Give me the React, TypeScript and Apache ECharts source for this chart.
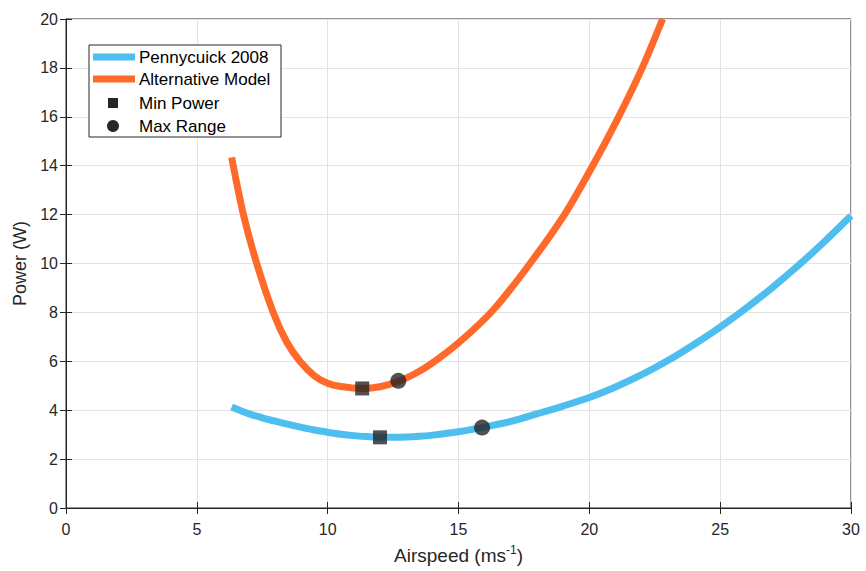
import React, { useEffect, useRef } from "react";
import * as echarts from "echarts";

const pennyX = [6.33, 7, 7.5, 8, 8.5, 9, 9.5, 10, 10.5, 11, 11.5, 12, 12.5, 13, 13.5, 14, 15, 15.9, 17, 18, 19, 20, 21, 22, 23, 24, 25, 26, 27, 28, 29, 30];
const pennyY = [4.13, 3.85, 3.69, 3.55, 3.42, 3.3, 3.19, 3.1, 3.02, 2.96, 2.92, 2.89, 2.89, 2.9, 2.93, 2.98, 3.12, 3.29, 3.54, 3.85, 4.17, 4.52, 4.95, 5.45, 6.03, 6.69, 7.4, 8.18, 9.02, 9.93, 10.91, 11.95];

const altX = [6.33, 6.78, 7.29, 7.92, 8.43, 8.94, 9.5, 10.0, 10.5, 11.32, 12.0, 12.7, 13.3, 13.91, 15.0, 16.37, 17.72, 19.05, 20.13, 21.12, 22.02, 22.8];
const altY = [14.34, 12.0, 10.0, 8.0, 6.8, 6.0, 5.4, 5.1, 4.97, 4.89, 4.96, 5.18, 5.47, 5.86, 6.75, 8.15, 9.98, 12.0, 14.0, 16.0, 18.0, 20.0];

const minPowerX = [11.32, 12.0];
const minPowerY = [4.89, 2.89];
const maxRangeX = [12.7, 15.9];
const maxRangeY = [5.2, 3.29];

const legendNames = ["Pennycuick 2008", "Alternative Model", "Min Power", "Max Range"];

const BLUE = "#4DBEEE";
const ORANGE = "#FF6A2A";
const DARK = "#262626";
const FONT = "Liberation Sans, Arial, sans-serif";

const zip = (xs: number[], ys: number[]) => xs.map((x, i) => [x, ys[i]]);

export default function App() {
  const ref = useRef<HTMLDivElement>(null);
  useEffect(() => {
    if (!ref.current) return;
    const chart = echarts.init(ref.current, undefined, { renderer: "svg" });
    const axisCommon = {
      axisLine: { show: true, lineStyle: { color: DARK, width: 1 } },
      axisTick: { show: true, inside: true, length: 6, lineStyle: { color: DARK } },
      axisLabel: { color: DARK, fontSize: 16, fontFamily: FONT },
    };
    const lx = 89, ly = 45, lw = 192, lh = 92;
    const rows = [57, 79, 103, 126];
    const legendGraphics: any[] = [
      { type: "rect", shape: { x: lx, y: ly, width: lw, height: lh }, style: { fill: "#fff", stroke: DARK, lineWidth: 1 }, z: 100 },
      { type: "line", shape: { x1: 93, y1: rows[0], x2: 135, y2: rows[0] }, style: { stroke: BLUE, lineWidth: 7 }, z: 101 },
      { type: "line", shape: { x1: 93, y1: rows[1], x2: 135, y2: rows[1] }, style: { stroke: ORANGE, lineWidth: 7 }, z: 101 },
      { type: "rect", shape: { x: 108, y: rows[2] - 5, width: 10, height: 10 }, style: { fill: DARK }, z: 101 },
      { type: "circle", shape: { cx: 113, cy: rows[3], r: 6 }, style: { fill: DARK }, z: 101 },
      ...legendNames.map((n, i) => ({
        type: "text",
        x: 139,
        y: rows[i],
        style: { text: n, fill: "#000", font: `17px ${FONT}`, verticalAlign: "middle" },
        z: 101,
      })),
    ];
    chart.setOption({
      animation: false,
      backgroundColor: "#fff",
      grid: { left: 66, right: 15, top: 19, bottom: 60, show: true, borderColor: DARK, borderWidth: 1 },
      xAxis: [
        {
          type: "value", min: 0, max: 30, interval: 5, ...axisCommon,
          axisLabel: { ...axisCommon.axisLabel, margin: 13 },
          splitLine: { show: true, lineStyle: { color: "#e3e3e3" } },
          name: "{a|Airspeed (ms}{s|-1}{a|)}",
          nameLocation: "middle",
          nameGap: 36,
          nameTextStyle: {
            rich: {
              a: { fontSize: 19, color: DARK, fontFamily: FONT, lineHeight: 22 },
              s: { fontSize: 12, color: DARK, fontFamily: FONT, verticalAlign: "top", lineHeight: 22, padding: [0, 0, 10, 0] },
            },
          },
        },
        { type: "value", min: 0, max: 30, interval: 5, position: "top", ...axisCommon, axisLabel: { show: false }, splitLine: { show: false } },
      ],
      yAxis: [
        {
          type: "value", min: 0, max: 20, interval: 2, ...axisCommon,
          axisLabel: { ...axisCommon.axisLabel, margin: 8 },
          splitLine: { show: true, lineStyle: { color: "#e3e3e3" } },
          name: "Power (W)",
          nameLocation: "middle",
          nameGap: 36,
          nameTextStyle: { fontSize: 18, color: DARK, fontFamily: FONT },
        },
        { type: "value", min: 0, max: 20, interval: 2, position: "right", ...axisCommon, axisLabel: { show: false }, splitLine: { show: false } },
      ],
      series: [
        {
          name: legendNames[0], type: "line", data: zip(pennyX, pennyY), smooth: 0.3,
          showSymbol: false, lineStyle: { color: BLUE, width: 7, cap: "butt", join: "round" }, clip: true, z: 2,
        },
        {
          name: legendNames[1], type: "line", data: zip(altX, altY), smooth: 0.3,
          showSymbol: false, lineStyle: { color: ORANGE, width: 7, cap: "butt", join: "round" }, clip: true, z: 2,
        },
        {
          name: legendNames[2], type: "scatter", data: zip(minPowerX, minPowerY), symbol: "rect", symbolSize: 14,
          itemStyle: { color: DARK }, z: 5,
        },
        {
          name: legendNames[3], type: "scatter", data: zip(maxRangeX, maxRangeY), symbol: "circle", symbolSize: 16,
          itemStyle: { color: DARK }, z: 5,
        },
      ],
      graphic: legendGraphics,
    });
    return () => chart.dispose();
  }, []);
  return <div ref={ref} style={{ width: 866, height: 571, position: "absolute", left: 0, top: 0 }} />;
}
